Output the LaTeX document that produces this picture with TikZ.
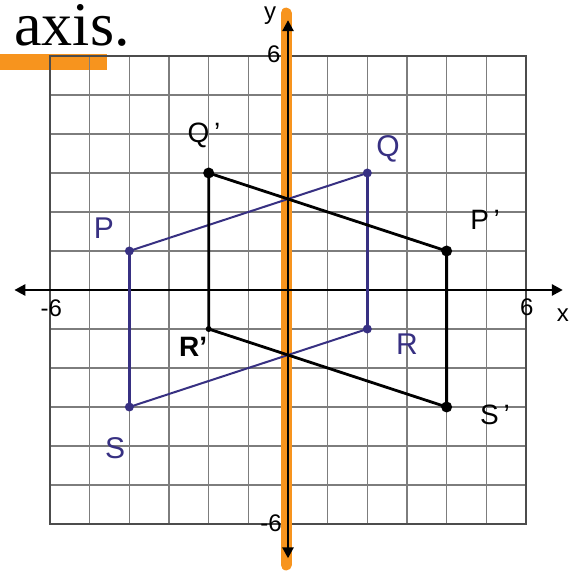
\documentclass[tikz,border=0pt]{standalone}
\usepackage{fontspec}
\setmainfont{Liberation Serif}
\setsansfont{Liberation Sans}
\usetikzlibrary{arrows.meta}
\definecolor{hl}{RGB}{247,148,30}
\definecolor{pen}{RGB}{55,48,130}
\definecolor{gridc}{RGB}{125,125,125}
\newcommand{\pr}{\char"27}
\begin{document}
\begin{tikzpicture}[x=0.5pt,y=-0.5pt,
  ax/.style={line width=1.3pt,-{Triangle[length=5.5pt,width=5.5pt]}},
  tick/.style={inner sep=0pt,font=\sffamily\fontsize{12}{12}\selectfont},
  lbl/.style={inner sep=0pt,font=\sffamily\fontsize{14}{14}\selectfont},
  plbl/.style={lbl,text=pen,font=\sffamily\fontsize{15}{15}\selectfont},
  bdot/.style={circle,fill=black,inner sep=0pt,minimum size=5.5pt},
  pdot/.style={circle,fill=pen,inner sep=0pt,minimum size=4.5pt},
  img/.style={line width=1.4pt,line join=round},
  pre/.style={pen,line width=1pt,line join=round},
]
\useasboundingbox (0,0) rectangle (579,571);
\fill[white] (0,0) rectangle (579,571);
\node[anchor=base west,inner sep=0pt,font=\fontsize{31}{31}\selectfont] (title) at (14,46) {axis.};
\fill[hl] (0,54) rectangle (107,70);
\begin{scope}[shift={(144pt,-145pt)},x=19.83pt,y=19.5pt]
  \foreach \i in {-5,...,5} {
    \draw[gridc,line width=0.75pt] (\i,-6) -- (\i,6);
    \draw[gridc,line width=0.75pt] (-6,\i) -- (6,\i);
  }
  \draw[black!70,line width=1pt] (-6,-6) rectangle (6,6);
  \draw[hl,line width=5.5pt,line cap=round] (-0.05,7.1) -- (-0.05,-7.05);
  \coordinate (xl) at (-6.9,0);
  \coordinate (xr) at (6.93,0);
  \coordinate (yb) at (0,-6.88);
  \coordinate (yt) at (0,6.92);
  \draw[ax] (0,0) -- (xr);
  \draw[ax] (0,0) -- (xl);
  \draw[ax] (0,0) -- (yt);
  \draw[ax] (0,0) -- (yb);
  \node[tick] (t6top) at (-0.36,6.05) {6};
  \node[tick] (tm6bot) at (-0.43,-5.97) {-6};
  \node[tick] (tm6left) at (-5.97,-0.46) {-6};
  \node[tick] (t6right) at (6.02,-0.44) {6};
  \node[tick] (xlab) at (6.93,-0.64) {x};
  \node[tick] (ylab) at (-0.45,7.03) {y};
  % preimage
  \node[pdot] (P) at (-4,1) {};
  \node[pdot] (Q) at (2,3) {};
  \node[pdot] (R) at (2,-1) {};
  \node[pdot] (S) at (-4,-3) {};
  \draw[pre] (P.center) -- (Q.center);
  \draw[pre] (R.center) -- (S.center);
  \draw[pre,line width=1.3pt] (Q.center) -- (R.center);
  \draw[pre,line width=1.3pt] (S.center) -- (P.center);
  % image
  \node[bdot] (Qp) at (-2,3) {};
  \node[bdot] (Pp) at (4,1) {};
  \node[bdot,minimum size=3pt] (Rp) at (-2,-1) {};
  \node[bdot] (Sp) at (4,-3) {};
  \draw[img] (Qp.center) -- (Pp.center) -- (Sp.center) -- (Rp.center) -- cycle;
  % labels
  \node[plbl] (lP) at (-4.64,1.59) {P};
  \node[plbl] (lQ) at (2.52,3.62) {Q};
  \node[plbl] (lR) at (3.0,-1.38) {R};
  \node[plbl] (lS) at (-4.36,-4.05) {S};
  \node[lbl] (lQp) at (-2.12,3.97) {Q\,\pr};
  \node[lbl] (lPp) at (4.97,1.79) {P\,\pr};
  \node[lbl] (lSp) at (5.22,-3.21) {S\,\pr};
  \node[lbl,font=\sffamily\bfseries\fontsize{14}{14}\selectfont] (lRp) at (-2.39,-1.46) {R\pr};
\end{scope}
\end{tikzpicture}
\end{document}
